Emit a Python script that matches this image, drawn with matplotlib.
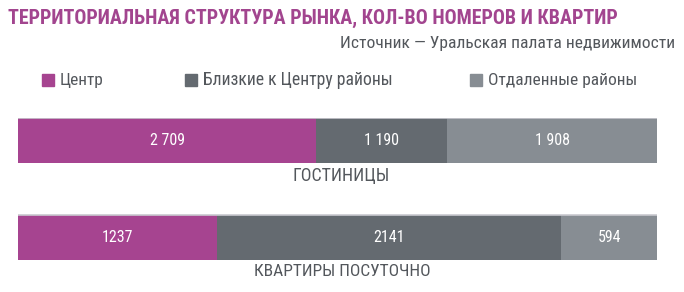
import matplotlib
matplotlib.use('Agg')
import matplotlib.pyplot as plt
from matplotlib import font_manager

segments = ['Центр', 'Близкие к Центру районы', 'Отдаленные районы']
categories = ['ГОСТИНИЦЫ', 'КВАРТИРЫ ПОСУТОЧНО']
hotels = [2709, 1190, 1908]
flats = [1237, 2141, 594]
labels_hotels = ['2 709', '1 190', '1 908']
labels_flats = ['1237', '2141', '594']

colors = ['#a64490', '#646a70', '#878d93']
grey_txt = '#53575c'

names = {f.name for f in font_manager.fontManager.ttflist}
fam = 'DejaVu Sans'
for cand in ['Roboto Condensed', 'Liberation Sans Narrow', 'Open Sans Condensed', 'Liberation Sans']:
    if cand in names:
        fam = cand
        break
plt.rcParams['font.family'] = [fam, 'DejaVu Sans']

fig = plt.figure(figsize=(6.84, 2.92), dpi=100)
renderer = fig.canvas.get_renderer()


def fit(t, width_px):
    # scale font so the text spans about width_px pixels, like the reference
    w = t.get_window_extent(renderer).width
    t.set_fontsize(t.get_fontsize() * width_px / w)
    return t


ax = fig.add_axes([18 / 684, 1 - 260 / 292, 639 / 684, 142 / 292])

h = 45 / 97
rows = [(1, hotels, labels_hotels), (0, flats, labels_flats)]
for y, vals, labs in rows:
    total = sum(vals)
    left = 0
    for v, lab, c in zip(vals, labs, colors):
        w = v / total
        ax.barh(y, w, left=left, height=h, color=c, linewidth=0)
        ax.text(left + w / 2, y, lab, ha='center', va='center',
                color='white', fontsize=11.5)
        left += w
    ax.plot([0, 1], [y + h / 2, y + h / 2], color='#c9c9cf', lw=1.2)

ax.set_xlim(0, 1)
ax.set_ylim(-h / 2, 1 + h / 2)
ax.axis('off')

# category captions under bars
c1 = fig.text(341 / 684, 1 - 176 / 292, categories[0], ha='center', va='center',
              fontsize=10.5, color=grey_txt)
fit(c1, 97)
c2 = fig.text(342 / 684, 1 - 272 / 292, categories[1], ha='center', va='center',
              fontsize=10.5, color=grey_txt)
fit(c2, 177)

# title + source
t = fig.text(8 / 684, 1 - 18 / 292, 'ТЕРРИТОРИАЛЬНАЯ СТРУКТУРА РЫНКА, КОЛ-ВО НОМЕРОВ И КВАРТИР',
             ha='left', va='center', fontsize=13, fontweight='bold', color='#a2458f')
fit(t, 606)
s = fig.text(675 / 684, 1 - 44 / 292, 'Источник — Уральская палата недвижимости',
             ha='right', va='center', fontsize=10, color=grey_txt)
fit(s, 335)

# legend
leg_x = [42, 185, 470]
leg_w = [44, 192, 150]
for x, name, c, lw in zip(leg_x, segments, colors, leg_w):
    fig.patches.append(plt.Rectangle((x / 684, 1 - 86 / 292), 12 / 684, 12 / 292,
                                     transform=fig.transFigure, color=c))
    lt = fig.text((x + 18) / 684, 1 - 80 / 292, name, ha='left', va='center',
                  fontsize=10.5, color=grey_txt)
    fit(lt, lw)

fig.savefig('out.png', dpi=100, facecolor='white')
